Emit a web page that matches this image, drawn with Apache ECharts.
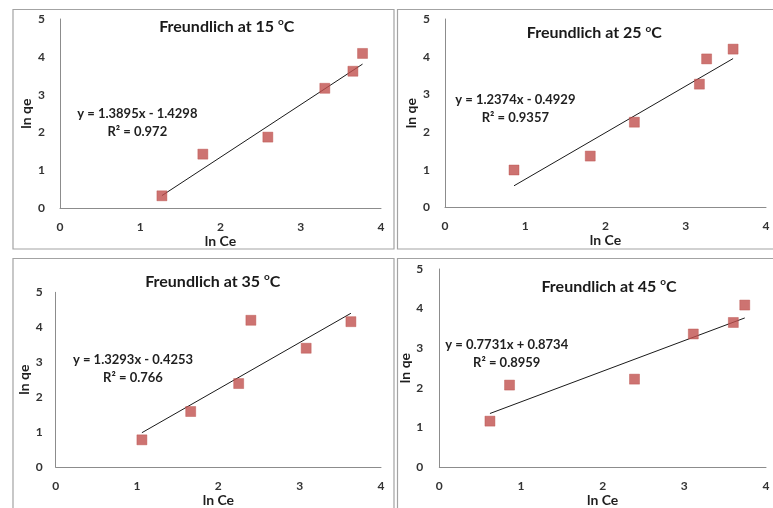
<!DOCTYPE html>
<html>
<head>
<meta charset="utf-8">
<script src="https://cdn.jsdelivr.net/npm/echarts@6/dist/echarts.min.js"></script>
<style>
  html, body { margin: 0; padding: 0; background: #fff; }
  #chart { width: 773px; height: 508px; }
</style>
</head>
<body>
<div id="chart"></div>
<script>
// Freundlich isotherm data: ln Ce vs ln qe at four temperatures
const temps = ['15', '25', '35', '45'];

const lnCe15 = [1.27, 1.78, 2.59, 3.30, 3.65, 3.77];
const lnQe15 = [0.33, 1.43, 1.88, 3.17, 3.62, 4.09];

const lnCe25 = [0.86, 1.81, 2.36, 3.17, 3.26, 3.59];
const lnQe25 = [0.99, 1.36, 2.26, 3.27, 3.94, 4.20];

const lnCe35 = [1.06, 1.66, 2.25, 2.40, 3.08, 3.63];
const lnQe35 = [0.78, 1.59, 2.39, 4.20, 3.40, 4.16];

const lnCe45 = [0.62, 0.86, 2.39, 3.11, 3.60, 3.74];
const lnQe45 = [1.16, 2.07, 2.22, 3.36, 3.65, 4.09];

// Linear fit parameters (slope, intercept, R²)
const slopes = [1.3895, 1.2374, 1.3293, 0.7731];
const intercepts = [-1.4298, -0.4929, -0.4253, 0.8734];
const r2Values = ['0.972', '0.9357', '0.766', '0.8959'];
const eqTexts = ['y = 1.3895x - 1.4298', 'y = 1.2374x - 0.4929', 'y = 1.3293x - 0.4253', 'y = 0.7731x + 0.8734'];

const xTicks = [0, 1, 2, 3, 4];
const yTicks = [0, 1, 2, 3, 4, 5];

const xs = [lnCe15, lnCe25, lnCe35, lnCe45];
const ys = [lnQe15, lnQe25, lnQe35, lnQe45];

// Layout for each panel
const grids = [
  { left: 60, top: 19, width: 321, height: 189.3 },
  { left: 445, top: 19, width: 321, height: 188.3 },
  { left: 55.7, top: 292.3, width: 325.3, height: 178.7 },
  { left: 439.3, top: 269, width: 326.7, height: 202 }
];
const yNameGaps = [27, 27, 24, 22];
const xNameGaps = [24, 26, 23, 23];
const yLabelMargins = [15, 15, 13, 16];
const titlePos = [[226.7, 26.7], [594.3, 33.3], [212.7, 281.7], [609, 286.7]];
const eqPos = [[137.3, 113.3], [515.3, 99], [133, 359], [506.7, 344]];
const framePos = [
  { x: 13, y: 9.5, w: 381, h: 239.5 },
  { x: 397.5, y: 9.5, w: 400, h: 239.5 },
  { x: 13, y: 258.5, w: 381, h: 300 },
  { x: 397.5, y: 258.5, w: 400, h: 300 }
];

const FONT = 'Lato, "Open Sans", sans-serif';
const textColor = '#333';

const chart = echarts.init(document.getElementById('chart'), null, { renderer: 'canvas' });

const grid = [], xAxis = [], yAxis = [], series = [], graphic = [];

framePos.forEach(f => {
  graphic.push({
    type: 'rect', silent: true, z: -1,
    shape: { x: f.x, y: f.y, width: f.w, height: f.h },
    style: { fill: '#fff', stroke: '#a3a3a3', lineWidth: 1.2 }
  });
});

for (let i = 0; i < 4; i++) {
  grid.push(Object.assign({ containLabel: false }, grids[i]));
  const axisCommon = {
    gridIndex: i,
    type: 'value',
    interval: 1,
    splitLine: { show: false },
    axisTick: { show: false },
    axisLine: { show: true, onZero: false, lineStyle: { color: '#8c8c8c', width: 1 } },
    nameLocation: 'middle',
    nameTextStyle: { fontFamily: FONT, fontWeight: 'bold', fontSize: 14, color: '#1f1f1f' },
    axisLabel: { fontFamily: FONT, fontWeight: 'bold', fontSize: 12, color: textColor }
  };
  xAxis.push(Object.assign({}, axisCommon, {
    min: xTicks[0], max: xTicks[xTicks.length - 1],
    name: 'ln Ce', nameGap: xNameGaps[i],
    axisLabel: Object.assign({}, axisCommon.axisLabel, { margin: 13 })
  }));
  yAxis.push(Object.assign({}, axisCommon, {
    min: yTicks[0], max: yTicks[yTicks.length - 1],
    name: 'ln qe', nameGap: yNameGaps[i],
    axisLabel: Object.assign({}, axisCommon.axisLabel, { margin: yLabelMargins[i] })
  }));

  const pts = xs[i].map((x, k) => [x, ys[i][k]]);
  series.push({
    type: 'scatter',
    xAxisIndex: i, yAxisIndex: i,
    symbol: 'rect', symbolSize: 10,
    itemStyle: { color: '#c0504d', borderColor: '#b84a47', borderWidth: 0.5 },
    data: pts,
    z: 3
  });

  // Trend line across the data's x range, from the fitted equation
  const xMin = Math.min.apply(null, xs[i]);
  const xMax = Math.max.apply(null, xs[i]);
  series.push({
    type: 'line',
    xAxisIndex: i, yAxisIndex: i,
    showSymbol: false, silent: true,
    lineStyle: { color: '#1a1a1a', width: 1 },
    data: [[xMin, slopes[i] * xMin + intercepts[i]], [xMax, slopes[i] * xMax + intercepts[i]]],
    z: 2
  });

  graphic.push({
    type: 'text', silent: true,
    x: titlePos[i][0], y: titlePos[i][1],
    style: {
      text: '{t|Freundlich at ' + temps[i] + ' }{s|o}{t|C}',
      textAlign: 'center', textVerticalAlign: 'middle',
      rich: {
        t: { fontFamily: FONT, fontWeight: 'bold', fontSize: 16, fill: '#1a1a1a', lineHeight: 20 },
        s: { fontFamily: FONT, fontWeight: 'bold', fontSize: 10, fill: '#1a1a1a', lineHeight: 20, padding: [0, 0, 9, 0] }
      }
    }
  });
  graphic.push({
    type: 'text', silent: true,
    x: eqPos[i][0], y: eqPos[i][1] - 8,
    style: {
      text: eqTexts[i] + '\nR\u00B2 = ' + r2Values[i],
      textAlign: 'center', textVerticalAlign: 'top',
      font: 'bold 13px ' + FONT, fill: '#1f1f1f', lineHeight: 17.7
    }
  });
}

chart.setOption({
  animation: false,
  backgroundColor: '#fff',
  grid, xAxis, yAxis, series, graphic
});
</script>
</body>
</html>
